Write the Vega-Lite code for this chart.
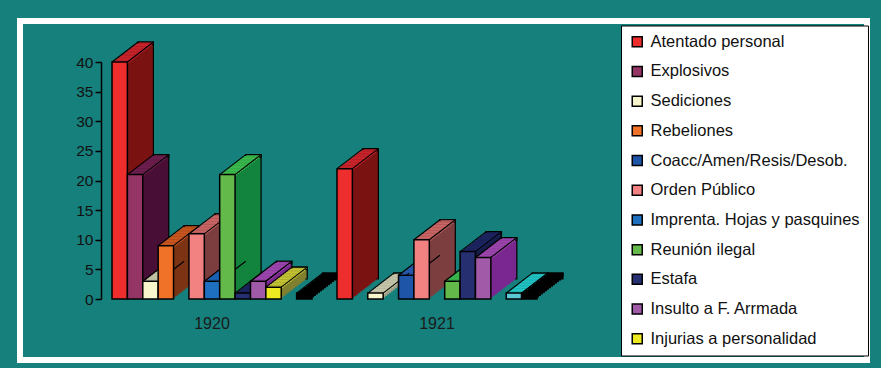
{
"$schema":"https://vega.github.io/schema/vega-lite/v6.json",
"width":847,"height":339,
"autosize":{"type":"none"},
"padding":{"left":20,"top":21,"right":14,"bottom":8},
"background":"#16807c",
"config":{"view":{"fill":"#16807c","stroke":"#ffffff","strokeWidth":6}},
"data":{"values":[
{"year":"1920","cat":"Atentado personal","value":40},
{"year":"1920","cat":"Explosivos","value":21},
{"year":"1920","cat":"Sediciones","value":3},
{"year":"1920","cat":"Rebeliones","value":9},
{"year":"1920","cat":"Coacc/Amen/Resis/Desob.","value":0},
{"year":"1920","cat":"Orden Público","value":11},
{"year":"1920","cat":"Imprenta. Hojas y pasquines","value":3},
{"year":"1920","cat":"Reunión ilegal","value":21},
{"year":"1920","cat":"Estafa","value":1},
{"year":"1920","cat":"Insulto a F. Arrmada","value":3},
{"year":"1920","cat":"Injurias a personalidad","value":2},
{"year":"1920","cat":"Serie 12","value":0},
{"year":"1920","cat":"Serie 13","value":1},
{"year":"1921","cat":"Atentado personal","value":22},
{"year":"1921","cat":"Explosivos","value":0},
{"year":"1921","cat":"Sediciones","value":1},
{"year":"1921","cat":"Rebeliones","value":0},
{"year":"1921","cat":"Coacc/Amen/Resis/Desob.","value":4},
{"year":"1921","cat":"Orden Público","value":10},
{"year":"1921","cat":"Imprenta. Hojas y pasquines","value":0},
{"year":"1921","cat":"Reunión ilegal","value":3},
{"year":"1921","cat":"Estafa","value":8},
{"year":"1921","cat":"Insulto a F. Arrmada","value":7},
{"year":"1921","cat":"Injurias a personalidad","value":0},
{"year":"1921","cat":"Serie 12","value":1},
{"year":"1921","cat":"Serie 13","value":1}
]},
"transform":[{"filter":"datum.value > 0"}],
"encoding":{
"x":{"field":"year","type":"nominal","title":null,"scale":{"range":[79.5,529.5],"paddingInner":0.1111,"paddingOuter":0.0556},
"axis":{"domain":false,"ticks":false,"labelFont":"Liberation Sans","labelFontSize":16,"labelColor":"#1a1a1a","labelPadding":0,"offset":-45,"labelAngle":0,"labelBaseline":"top"}},
"y":{"field":"value","type":"quantitative","title":null,"stack":null,"scale":{"domain":[0,40],"range":[278,41],"nice":false},
"axis":{"values":[0,5,10,15,20,25,30,35,40],"offset":-81,"grid":false,"domainColor":"#000","domainWidth":1.5,"tickColor":"#000","tickWidth":1.5,"tickSize":6,"labelFont":"Liberation Sans","labelFontSize":15.5,"labelColor":"#111","labelPadding":2}}
},
"resolve":{"scale":{"xOffset":"independent","fill":"independent"}},
"layer":[
{"mark":{"type":"bar","yOffset":-20,"y2Offset":-20,"stroke":"#000","strokeWidth":1.2},"encoding":{"xOffset":{"field":"cat","scale":{"domain":["Atentado personal","Explosivos","Sediciones","Rebeliones","Coacc/Amen/Resis/Desob.","Orden Público","Imprenta. Hojas y pasquines","Reunión ilegal","Estafa","Insulto a F. Arrmada","Injurias a personalidad","Serie 12","Serie 13"],"range":[26,226],"paddingInner":0,"paddingOuter":0}},"y2":{"datum":0},"fill":{"field":"cat","scale":{"domain":["Atentado personal","Explosivos","Sediciones","Rebeliones","Coacc/Amen/Resis/Desob.","Orden Público","Imprenta. Hojas y pasquines","Reunión ilegal","Estafa","Insulto a F. Arrmada","Injurias a personalidad","Serie 12","Serie 13"],"range":["#7b1313","#4a0f35","#a0a086","#7c3414","#14336c","#7c3e3e","#124a80","#13843e","#161c48","#7a2890","#808030","#128888","#000000"]},"legend":null}}},
{"mark":{"type":"bar","yOffset":-20,"y2Offset":-17.5,"stroke":"#000","strokeWidth":1.2},"encoding":{"xOffset":{"field":"cat","scale":{"domain":["Atentado personal","Explosivos","Sediciones","Rebeliones","Coacc/Amen/Resis/Desob.","Orden Público","Imprenta. Hojas y pasquines","Reunión ilegal","Estafa","Insulto a F. Arrmada","Injurias a personalidad","Serie 12","Serie 13"],"range":[26,226],"paddingInner":0,"paddingOuter":0}},"y2":{"field":"value"},"fill":{"field":"cat","scale":{"domain":["Atentado personal","Explosivos","Sediciones","Rebeliones","Coacc/Amen/Resis/Desob.","Orden Público","Imprenta. Hojas y pasquines","Reunión ilegal","Estafa","Insulto a F. Arrmada","Injurias a personalidad","Serie 12","Serie 13"],"range":["#c8242c","#6c1f4e","#c4c4a8","#c8561e","#2a5cb4","#c86464","#1a64b8","#3cb84c","#1c2460","#9a46aa","#c2c232","#22c2c2","#000000"]},"legend":null}}},
{"mark":{"type":"bar","yOffset":-18.46,"y2Offset":-18.46},"encoding":{"xOffset":{"field":"cat","scale":{"domain":["Atentado personal","Explosivos","Sediciones","Rebeliones","Coacc/Amen/Resis/Desob.","Orden Público","Imprenta. Hojas y pasquines","Reunión ilegal","Estafa","Insulto a F. Arrmada","Injurias a personalidad","Serie 12","Serie 13"],"range":[24,224],"paddingInner":0,"paddingOuter":0}},"y2":{"datum":0},"fill":{"field":"cat","scale":{"domain":["Atentado personal","Explosivos","Sediciones","Rebeliones","Coacc/Amen/Resis/Desob.","Orden Público","Imprenta. Hojas y pasquines","Reunión ilegal","Estafa","Insulto a F. Arrmada","Injurias a personalidad","Serie 12","Serie 13"],"range":["#7b1313","#4a0f35","#a0a086","#7c3414","#14336c","#7c3e3e","#124a80","#13843e","#161c48","#7a2890","#808030","#128888","#000000"]},"legend":null}}},
{"mark":{"type":"bar","yOffset":-18.46,"y2Offset":-15.96},"encoding":{"xOffset":{"field":"cat","scale":{"domain":["Atentado personal","Explosivos","Sediciones","Rebeliones","Coacc/Amen/Resis/Desob.","Orden Público","Imprenta. Hojas y pasquines","Reunión ilegal","Estafa","Insulto a F. Arrmada","Injurias a personalidad","Serie 12","Serie 13"],"range":[24,224],"paddingInner":0,"paddingOuter":0}},"y2":{"field":"value"},"fill":{"field":"cat","scale":{"domain":["Atentado personal","Explosivos","Sediciones","Rebeliones","Coacc/Amen/Resis/Desob.","Orden Público","Imprenta. Hojas y pasquines","Reunión ilegal","Estafa","Insulto a F. Arrmada","Injurias a personalidad","Serie 12","Serie 13"],"range":["#c8242c","#6c1f4e","#c4c4a8","#c8561e","#2a5cb4","#c86464","#1a64b8","#3cb84c","#1c2460","#9a46aa","#c2c232","#22c2c2","#000000"]},"legend":null}}},
{"mark":{"type":"bar","yOffset":-16.92,"y2Offset":-16.92},"encoding":{"xOffset":{"field":"cat","scale":{"domain":["Atentado personal","Explosivos","Sediciones","Rebeliones","Coacc/Amen/Resis/Desob.","Orden Público","Imprenta. Hojas y pasquines","Reunión ilegal","Estafa","Insulto a F. Arrmada","Injurias a personalidad","Serie 12","Serie 13"],"range":[22,222],"paddingInner":0,"paddingOuter":0}},"y2":{"datum":0},"fill":{"field":"cat","scale":{"domain":["Atentado personal","Explosivos","Sediciones","Rebeliones","Coacc/Amen/Resis/Desob.","Orden Público","Imprenta. Hojas y pasquines","Reunión ilegal","Estafa","Insulto a F. Arrmada","Injurias a personalidad","Serie 12","Serie 13"],"range":["#7b1313","#4a0f35","#a0a086","#7c3414","#14336c","#7c3e3e","#124a80","#13843e","#161c48","#7a2890","#808030","#128888","#000000"]},"legend":null}}},
{"mark":{"type":"bar","yOffset":-16.92,"y2Offset":-14.42},"encoding":{"xOffset":{"field":"cat","scale":{"domain":["Atentado personal","Explosivos","Sediciones","Rebeliones","Coacc/Amen/Resis/Desob.","Orden Público","Imprenta. Hojas y pasquines","Reunión ilegal","Estafa","Insulto a F. Arrmada","Injurias a personalidad","Serie 12","Serie 13"],"range":[22,222],"paddingInner":0,"paddingOuter":0}},"y2":{"field":"value"},"fill":{"field":"cat","scale":{"domain":["Atentado personal","Explosivos","Sediciones","Rebeliones","Coacc/Amen/Resis/Desob.","Orden Público","Imprenta. Hojas y pasquines","Reunión ilegal","Estafa","Insulto a F. Arrmada","Injurias a personalidad","Serie 12","Serie 13"],"range":["#c8242c","#6c1f4e","#c4c4a8","#c8561e","#2a5cb4","#c86464","#1a64b8","#3cb84c","#1c2460","#9a46aa","#c2c232","#22c2c2","#000000"]},"legend":null}}},
{"mark":{"type":"bar","yOffset":-15.38,"y2Offset":-15.38},"encoding":{"xOffset":{"field":"cat","scale":{"domain":["Atentado personal","Explosivos","Sediciones","Rebeliones","Coacc/Amen/Resis/Desob.","Orden Público","Imprenta. Hojas y pasquines","Reunión ilegal","Estafa","Insulto a F. Arrmada","Injurias a personalidad","Serie 12","Serie 13"],"range":[20,220],"paddingInner":0,"paddingOuter":0}},"y2":{"datum":0},"fill":{"field":"cat","scale":{"domain":["Atentado personal","Explosivos","Sediciones","Rebeliones","Coacc/Amen/Resis/Desob.","Orden Público","Imprenta. Hojas y pasquines","Reunión ilegal","Estafa","Insulto a F. Arrmada","Injurias a personalidad","Serie 12","Serie 13"],"range":["#7b1313","#4a0f35","#a0a086","#7c3414","#14336c","#7c3e3e","#124a80","#13843e","#161c48","#7a2890","#808030","#128888","#000000"]},"legend":null}}},
{"mark":{"type":"bar","yOffset":-15.38,"y2Offset":-12.88},"encoding":{"xOffset":{"field":"cat","scale":{"domain":["Atentado personal","Explosivos","Sediciones","Rebeliones","Coacc/Amen/Resis/Desob.","Orden Público","Imprenta. Hojas y pasquines","Reunión ilegal","Estafa","Insulto a F. Arrmada","Injurias a personalidad","Serie 12","Serie 13"],"range":[20,220],"paddingInner":0,"paddingOuter":0}},"y2":{"field":"value"},"fill":{"field":"cat","scale":{"domain":["Atentado personal","Explosivos","Sediciones","Rebeliones","Coacc/Amen/Resis/Desob.","Orden Público","Imprenta. Hojas y pasquines","Reunión ilegal","Estafa","Insulto a F. Arrmada","Injurias a personalidad","Serie 12","Serie 13"],"range":["#c8242c","#6c1f4e","#c4c4a8","#c8561e","#2a5cb4","#c86464","#1a64b8","#3cb84c","#1c2460","#9a46aa","#c2c232","#22c2c2","#000000"]},"legend":null}}},
{"mark":{"type":"bar","yOffset":-13.85,"y2Offset":-13.85},"encoding":{"xOffset":{"field":"cat","scale":{"domain":["Atentado personal","Explosivos","Sediciones","Rebeliones","Coacc/Amen/Resis/Desob.","Orden Público","Imprenta. Hojas y pasquines","Reunión ilegal","Estafa","Insulto a F. Arrmada","Injurias a personalidad","Serie 12","Serie 13"],"range":[18,218],"paddingInner":0,"paddingOuter":0}},"y2":{"datum":0},"fill":{"field":"cat","scale":{"domain":["Atentado personal","Explosivos","Sediciones","Rebeliones","Coacc/Amen/Resis/Desob.","Orden Público","Imprenta. Hojas y pasquines","Reunión ilegal","Estafa","Insulto a F. Arrmada","Injurias a personalidad","Serie 12","Serie 13"],"range":["#7b1313","#4a0f35","#a0a086","#7c3414","#14336c","#7c3e3e","#124a80","#13843e","#161c48","#7a2890","#808030","#128888","#000000"]},"legend":null}}},
{"mark":{"type":"bar","yOffset":-13.85,"y2Offset":-11.35},"encoding":{"xOffset":{"field":"cat","scale":{"domain":["Atentado personal","Explosivos","Sediciones","Rebeliones","Coacc/Amen/Resis/Desob.","Orden Público","Imprenta. Hojas y pasquines","Reunión ilegal","Estafa","Insulto a F. Arrmada","Injurias a personalidad","Serie 12","Serie 13"],"range":[18,218],"paddingInner":0,"paddingOuter":0}},"y2":{"field":"value"},"fill":{"field":"cat","scale":{"domain":["Atentado personal","Explosivos","Sediciones","Rebeliones","Coacc/Amen/Resis/Desob.","Orden Público","Imprenta. Hojas y pasquines","Reunión ilegal","Estafa","Insulto a F. Arrmada","Injurias a personalidad","Serie 12","Serie 13"],"range":["#c8242c","#6c1f4e","#c4c4a8","#c8561e","#2a5cb4","#c86464","#1a64b8","#3cb84c","#1c2460","#9a46aa","#c2c232","#22c2c2","#000000"]},"legend":null}}},
{"mark":{"type":"bar","yOffset":-12.31,"y2Offset":-12.31},"encoding":{"xOffset":{"field":"cat","scale":{"domain":["Atentado personal","Explosivos","Sediciones","Rebeliones","Coacc/Amen/Resis/Desob.","Orden Público","Imprenta. Hojas y pasquines","Reunión ilegal","Estafa","Insulto a F. Arrmada","Injurias a personalidad","Serie 12","Serie 13"],"range":[16,216],"paddingInner":0,"paddingOuter":0}},"y2":{"datum":0},"fill":{"field":"cat","scale":{"domain":["Atentado personal","Explosivos","Sediciones","Rebeliones","Coacc/Amen/Resis/Desob.","Orden Público","Imprenta. Hojas y pasquines","Reunión ilegal","Estafa","Insulto a F. Arrmada","Injurias a personalidad","Serie 12","Serie 13"],"range":["#7b1313","#4a0f35","#a0a086","#7c3414","#14336c","#7c3e3e","#124a80","#13843e","#161c48","#7a2890","#808030","#128888","#000000"]},"legend":null}}},
{"mark":{"type":"bar","yOffset":-12.31,"y2Offset":-9.81},"encoding":{"xOffset":{"field":"cat","scale":{"domain":["Atentado personal","Explosivos","Sediciones","Rebeliones","Coacc/Amen/Resis/Desob.","Orden Público","Imprenta. Hojas y pasquines","Reunión ilegal","Estafa","Insulto a F. Arrmada","Injurias a personalidad","Serie 12","Serie 13"],"range":[16,216],"paddingInner":0,"paddingOuter":0}},"y2":{"field":"value"},"fill":{"field":"cat","scale":{"domain":["Atentado personal","Explosivos","Sediciones","Rebeliones","Coacc/Amen/Resis/Desob.","Orden Público","Imprenta. Hojas y pasquines","Reunión ilegal","Estafa","Insulto a F. Arrmada","Injurias a personalidad","Serie 12","Serie 13"],"range":["#c8242c","#6c1f4e","#c4c4a8","#c8561e","#2a5cb4","#c86464","#1a64b8","#3cb84c","#1c2460","#9a46aa","#c2c232","#22c2c2","#000000"]},"legend":null}}},
{"mark":{"type":"bar","yOffset":-10.77,"y2Offset":-10.77},"encoding":{"xOffset":{"field":"cat","scale":{"domain":["Atentado personal","Explosivos","Sediciones","Rebeliones","Coacc/Amen/Resis/Desob.","Orden Público","Imprenta. Hojas y pasquines","Reunión ilegal","Estafa","Insulto a F. Arrmada","Injurias a personalidad","Serie 12","Serie 13"],"range":[14,214],"paddingInner":0,"paddingOuter":0}},"y2":{"datum":0},"fill":{"field":"cat","scale":{"domain":["Atentado personal","Explosivos","Sediciones","Rebeliones","Coacc/Amen/Resis/Desob.","Orden Público","Imprenta. Hojas y pasquines","Reunión ilegal","Estafa","Insulto a F. Arrmada","Injurias a personalidad","Serie 12","Serie 13"],"range":["#7b1313","#4a0f35","#a0a086","#7c3414","#14336c","#7c3e3e","#124a80","#13843e","#161c48","#7a2890","#808030","#128888","#000000"]},"legend":null}}},
{"mark":{"type":"bar","yOffset":-10.77,"y2Offset":-8.27},"encoding":{"xOffset":{"field":"cat","scale":{"domain":["Atentado personal","Explosivos","Sediciones","Rebeliones","Coacc/Amen/Resis/Desob.","Orden Público","Imprenta. Hojas y pasquines","Reunión ilegal","Estafa","Insulto a F. Arrmada","Injurias a personalidad","Serie 12","Serie 13"],"range":[14,214],"paddingInner":0,"paddingOuter":0}},"y2":{"field":"value"},"fill":{"field":"cat","scale":{"domain":["Atentado personal","Explosivos","Sediciones","Rebeliones","Coacc/Amen/Resis/Desob.","Orden Público","Imprenta. Hojas y pasquines","Reunión ilegal","Estafa","Insulto a F. Arrmada","Injurias a personalidad","Serie 12","Serie 13"],"range":["#c8242c","#6c1f4e","#c4c4a8","#c8561e","#2a5cb4","#c86464","#1a64b8","#3cb84c","#1c2460","#9a46aa","#c2c232","#22c2c2","#000000"]},"legend":null}}},
{"mark":{"type":"bar","yOffset":-9.23,"y2Offset":-9.23},"encoding":{"xOffset":{"field":"cat","scale":{"domain":["Atentado personal","Explosivos","Sediciones","Rebeliones","Coacc/Amen/Resis/Desob.","Orden Público","Imprenta. Hojas y pasquines","Reunión ilegal","Estafa","Insulto a F. Arrmada","Injurias a personalidad","Serie 12","Serie 13"],"range":[12,212],"paddingInner":0,"paddingOuter":0}},"y2":{"datum":0},"fill":{"field":"cat","scale":{"domain":["Atentado personal","Explosivos","Sediciones","Rebeliones","Coacc/Amen/Resis/Desob.","Orden Público","Imprenta. Hojas y pasquines","Reunión ilegal","Estafa","Insulto a F. Arrmada","Injurias a personalidad","Serie 12","Serie 13"],"range":["#7b1313","#4a0f35","#a0a086","#7c3414","#14336c","#7c3e3e","#124a80","#13843e","#161c48","#7a2890","#808030","#128888","#000000"]},"legend":null}}},
{"mark":{"type":"bar","yOffset":-9.23,"y2Offset":-6.73},"encoding":{"xOffset":{"field":"cat","scale":{"domain":["Atentado personal","Explosivos","Sediciones","Rebeliones","Coacc/Amen/Resis/Desob.","Orden Público","Imprenta. Hojas y pasquines","Reunión ilegal","Estafa","Insulto a F. Arrmada","Injurias a personalidad","Serie 12","Serie 13"],"range":[12,212],"paddingInner":0,"paddingOuter":0}},"y2":{"field":"value"},"fill":{"field":"cat","scale":{"domain":["Atentado personal","Explosivos","Sediciones","Rebeliones","Coacc/Amen/Resis/Desob.","Orden Público","Imprenta. Hojas y pasquines","Reunión ilegal","Estafa","Insulto a F. Arrmada","Injurias a personalidad","Serie 12","Serie 13"],"range":["#c8242c","#6c1f4e","#c4c4a8","#c8561e","#2a5cb4","#c86464","#1a64b8","#3cb84c","#1c2460","#9a46aa","#c2c232","#22c2c2","#000000"]},"legend":null}}},
{"mark":{"type":"bar","yOffset":-7.69,"y2Offset":-7.69},"encoding":{"xOffset":{"field":"cat","scale":{"domain":["Atentado personal","Explosivos","Sediciones","Rebeliones","Coacc/Amen/Resis/Desob.","Orden Público","Imprenta. Hojas y pasquines","Reunión ilegal","Estafa","Insulto a F. Arrmada","Injurias a personalidad","Serie 12","Serie 13"],"range":[10,210],"paddingInner":0,"paddingOuter":0}},"y2":{"datum":0},"fill":{"field":"cat","scale":{"domain":["Atentado personal","Explosivos","Sediciones","Rebeliones","Coacc/Amen/Resis/Desob.","Orden Público","Imprenta. Hojas y pasquines","Reunión ilegal","Estafa","Insulto a F. Arrmada","Injurias a personalidad","Serie 12","Serie 13"],"range":["#7b1313","#4a0f35","#a0a086","#7c3414","#14336c","#7c3e3e","#124a80","#13843e","#161c48","#7a2890","#808030","#128888","#000000"]},"legend":null}}},
{"mark":{"type":"bar","yOffset":-7.69,"y2Offset":-5.19},"encoding":{"xOffset":{"field":"cat","scale":{"domain":["Atentado personal","Explosivos","Sediciones","Rebeliones","Coacc/Amen/Resis/Desob.","Orden Público","Imprenta. Hojas y pasquines","Reunión ilegal","Estafa","Insulto a F. Arrmada","Injurias a personalidad","Serie 12","Serie 13"],"range":[10,210],"paddingInner":0,"paddingOuter":0}},"y2":{"field":"value"},"fill":{"field":"cat","scale":{"domain":["Atentado personal","Explosivos","Sediciones","Rebeliones","Coacc/Amen/Resis/Desob.","Orden Público","Imprenta. Hojas y pasquines","Reunión ilegal","Estafa","Insulto a F. Arrmada","Injurias a personalidad","Serie 12","Serie 13"],"range":["#c8242c","#6c1f4e","#c4c4a8","#c8561e","#2a5cb4","#c86464","#1a64b8","#3cb84c","#1c2460","#9a46aa","#c2c232","#22c2c2","#000000"]},"legend":null}}},
{"mark":{"type":"bar","yOffset":-6.15,"y2Offset":-6.15},"encoding":{"xOffset":{"field":"cat","scale":{"domain":["Atentado personal","Explosivos","Sediciones","Rebeliones","Coacc/Amen/Resis/Desob.","Orden Público","Imprenta. Hojas y pasquines","Reunión ilegal","Estafa","Insulto a F. Arrmada","Injurias a personalidad","Serie 12","Serie 13"],"range":[8,208],"paddingInner":0,"paddingOuter":0}},"y2":{"datum":0},"fill":{"field":"cat","scale":{"domain":["Atentado personal","Explosivos","Sediciones","Rebeliones","Coacc/Amen/Resis/Desob.","Orden Público","Imprenta. Hojas y pasquines","Reunión ilegal","Estafa","Insulto a F. Arrmada","Injurias a personalidad","Serie 12","Serie 13"],"range":["#7b1313","#4a0f35","#a0a086","#7c3414","#14336c","#7c3e3e","#124a80","#13843e","#161c48","#7a2890","#808030","#128888","#000000"]},"legend":null}}},
{"mark":{"type":"bar","yOffset":-6.15,"y2Offset":-3.65},"encoding":{"xOffset":{"field":"cat","scale":{"domain":["Atentado personal","Explosivos","Sediciones","Rebeliones","Coacc/Amen/Resis/Desob.","Orden Público","Imprenta. Hojas y pasquines","Reunión ilegal","Estafa","Insulto a F. Arrmada","Injurias a personalidad","Serie 12","Serie 13"],"range":[8,208],"paddingInner":0,"paddingOuter":0}},"y2":{"field":"value"},"fill":{"field":"cat","scale":{"domain":["Atentado personal","Explosivos","Sediciones","Rebeliones","Coacc/Amen/Resis/Desob.","Orden Público","Imprenta. Hojas y pasquines","Reunión ilegal","Estafa","Insulto a F. Arrmada","Injurias a personalidad","Serie 12","Serie 13"],"range":["#c8242c","#6c1f4e","#c4c4a8","#c8561e","#2a5cb4","#c86464","#1a64b8","#3cb84c","#1c2460","#9a46aa","#c2c232","#22c2c2","#000000"]},"legend":null}}},
{"mark":{"type":"bar","yOffset":-4.62,"y2Offset":-4.62},"encoding":{"xOffset":{"field":"cat","scale":{"domain":["Atentado personal","Explosivos","Sediciones","Rebeliones","Coacc/Amen/Resis/Desob.","Orden Público","Imprenta. Hojas y pasquines","Reunión ilegal","Estafa","Insulto a F. Arrmada","Injurias a personalidad","Serie 12","Serie 13"],"range":[6,206],"paddingInner":0,"paddingOuter":0}},"y2":{"datum":0},"fill":{"field":"cat","scale":{"domain":["Atentado personal","Explosivos","Sediciones","Rebeliones","Coacc/Amen/Resis/Desob.","Orden Público","Imprenta. Hojas y pasquines","Reunión ilegal","Estafa","Insulto a F. Arrmada","Injurias a personalidad","Serie 12","Serie 13"],"range":["#7b1313","#4a0f35","#a0a086","#7c3414","#14336c","#7c3e3e","#124a80","#13843e","#161c48","#7a2890","#808030","#128888","#000000"]},"legend":null}}},
{"mark":{"type":"bar","yOffset":-4.62,"y2Offset":-2.12},"encoding":{"xOffset":{"field":"cat","scale":{"domain":["Atentado personal","Explosivos","Sediciones","Rebeliones","Coacc/Amen/Resis/Desob.","Orden Público","Imprenta. Hojas y pasquines","Reunión ilegal","Estafa","Insulto a F. Arrmada","Injurias a personalidad","Serie 12","Serie 13"],"range":[6,206],"paddingInner":0,"paddingOuter":0}},"y2":{"field":"value"},"fill":{"field":"cat","scale":{"domain":["Atentado personal","Explosivos","Sediciones","Rebeliones","Coacc/Amen/Resis/Desob.","Orden Público","Imprenta. Hojas y pasquines","Reunión ilegal","Estafa","Insulto a F. Arrmada","Injurias a personalidad","Serie 12","Serie 13"],"range":["#c8242c","#6c1f4e","#c4c4a8","#c8561e","#2a5cb4","#c86464","#1a64b8","#3cb84c","#1c2460","#9a46aa","#c2c232","#22c2c2","#000000"]},"legend":null}}},
{"mark":{"type":"bar","yOffset":-3.08,"y2Offset":-3.08},"encoding":{"xOffset":{"field":"cat","scale":{"domain":["Atentado personal","Explosivos","Sediciones","Rebeliones","Coacc/Amen/Resis/Desob.","Orden Público","Imprenta. Hojas y pasquines","Reunión ilegal","Estafa","Insulto a F. Arrmada","Injurias a personalidad","Serie 12","Serie 13"],"range":[4,204],"paddingInner":0,"paddingOuter":0}},"y2":{"datum":0},"fill":{"field":"cat","scale":{"domain":["Atentado personal","Explosivos","Sediciones","Rebeliones","Coacc/Amen/Resis/Desob.","Orden Público","Imprenta. Hojas y pasquines","Reunión ilegal","Estafa","Insulto a F. Arrmada","Injurias a personalidad","Serie 12","Serie 13"],"range":["#7b1313","#4a0f35","#a0a086","#7c3414","#14336c","#7c3e3e","#124a80","#13843e","#161c48","#7a2890","#808030","#128888","#000000"]},"legend":null}}},
{"mark":{"type":"bar","yOffset":-3.08,"y2Offset":-0.58},"encoding":{"xOffset":{"field":"cat","scale":{"domain":["Atentado personal","Explosivos","Sediciones","Rebeliones","Coacc/Amen/Resis/Desob.","Orden Público","Imprenta. Hojas y pasquines","Reunión ilegal","Estafa","Insulto a F. Arrmada","Injurias a personalidad","Serie 12","Serie 13"],"range":[4,204],"paddingInner":0,"paddingOuter":0}},"y2":{"field":"value"},"fill":{"field":"cat","scale":{"domain":["Atentado personal","Explosivos","Sediciones","Rebeliones","Coacc/Amen/Resis/Desob.","Orden Público","Imprenta. Hojas y pasquines","Reunión ilegal","Estafa","Insulto a F. Arrmada","Injurias a personalidad","Serie 12","Serie 13"],"range":["#c8242c","#6c1f4e","#c4c4a8","#c8561e","#2a5cb4","#c86464","#1a64b8","#3cb84c","#1c2460","#9a46aa","#c2c232","#22c2c2","#000000"]},"legend":null}}},
{"mark":{"type":"bar","yOffset":-1.54,"y2Offset":-1.54},"encoding":{"xOffset":{"field":"cat","scale":{"domain":["Atentado personal","Explosivos","Sediciones","Rebeliones","Coacc/Amen/Resis/Desob.","Orden Público","Imprenta. Hojas y pasquines","Reunión ilegal","Estafa","Insulto a F. Arrmada","Injurias a personalidad","Serie 12","Serie 13"],"range":[2,202],"paddingInner":0,"paddingOuter":0}},"y2":{"datum":0},"fill":{"field":"cat","scale":{"domain":["Atentado personal","Explosivos","Sediciones","Rebeliones","Coacc/Amen/Resis/Desob.","Orden Público","Imprenta. Hojas y pasquines","Reunión ilegal","Estafa","Insulto a F. Arrmada","Injurias a personalidad","Serie 12","Serie 13"],"range":["#7b1313","#4a0f35","#a0a086","#7c3414","#14336c","#7c3e3e","#124a80","#13843e","#161c48","#7a2890","#808030","#128888","#000000"]},"legend":null}}},
{"mark":{"type":"bar","yOffset":-1.54,"y2Offset":0.96},"encoding":{"xOffset":{"field":"cat","scale":{"domain":["Atentado personal","Explosivos","Sediciones","Rebeliones","Coacc/Amen/Resis/Desob.","Orden Público","Imprenta. Hojas y pasquines","Reunión ilegal","Estafa","Insulto a F. Arrmada","Injurias a personalidad","Serie 12","Serie 13"],"range":[2,202],"paddingInner":0,"paddingOuter":0}},"y2":{"field":"value"},"fill":{"field":"cat","scale":{"domain":["Atentado personal","Explosivos","Sediciones","Rebeliones","Coacc/Amen/Resis/Desob.","Orden Público","Imprenta. Hojas y pasquines","Reunión ilegal","Estafa","Insulto a F. Arrmada","Injurias a personalidad","Serie 12","Serie 13"],"range":["#c8242c","#6c1f4e","#c4c4a8","#c8561e","#2a5cb4","#c86464","#1a64b8","#3cb84c","#1c2460","#9a46aa","#c2c232","#22c2c2","#000000"]},"legend":null}}},
{"mark":{"type":"point","shape":"M-7.69,0L18.31,-20M7.69,0L33.69,-20","size":4,"filled":false,"stroke":"#000","strokeWidth":1.1,"opacity":1},"encoding":{"xOffset":{"field":"cat","scale":{"type":"band","domain":["Atentado personal","Explosivos","Sediciones","Rebeliones","Coacc/Amen/Resis/Desob.","Orden Público","Imprenta. Hojas y pasquines","Reunión ilegal","Estafa","Insulto a F. Arrmada","Injurias a personalidad","Serie 12","Serie 13"],"range":[0,200],"paddingInner":0,"paddingOuter":0}}}},
{"mark":{"type":"bar","stroke":"#000","strokeWidth":1.5},"encoding":{"xOffset":{"field":"cat","scale":{"domain":["Atentado personal","Explosivos","Sediciones","Rebeliones","Coacc/Amen/Resis/Desob.","Orden Público","Imprenta. Hojas y pasquines","Reunión ilegal","Estafa","Insulto a F. Arrmada","Injurias a personalidad","Serie 12","Serie 13"],"range":[0,200],"paddingInner":0,"paddingOuter":0}},"y2":{"datum":0},
"color":{"field":"cat","type":"nominal","scale":{"domain":["Atentado personal","Explosivos","Sediciones","Rebeliones","Coacc/Amen/Resis/Desob.","Orden Público","Imprenta. Hojas y pasquines","Reunión ilegal","Estafa","Insulto a F. Arrmada","Injurias a personalidad","Serie 12","Serie 13"],"range":["#ee2d2d","#953565","#f8f6cc","#f07228","#1f55a8","#f28282","#1f6fc0","#63ba4a","#262f70","#a05aa8","#eeea22","#5ccad6","#000000"]},
"legend":{"orient":"none","legendX":601,"legendY":4.5,"title":null,"values":["Atentado personal","Explosivos","Sediciones","Rebeliones","Coacc/Amen/Resis/Desob.","Orden Público","Imprenta. Hojas y pasquines","Reunión ilegal","Estafa","Insulto a F. Arrmada","Injurias a personalidad"],"fillColor":"#ffffff","strokeColor":"#000000","padding":8,"symbolType":"square","symbolSize":100,"symbolStrokeColor":"#000000","symbolStrokeWidth":1.5,"labelFont":"Liberation Sans","labelFontSize":16.5,"labelColor":"#111111","labelOffset":5,"rowPadding":12.7,"labelLimit":400}}}}
]
}
